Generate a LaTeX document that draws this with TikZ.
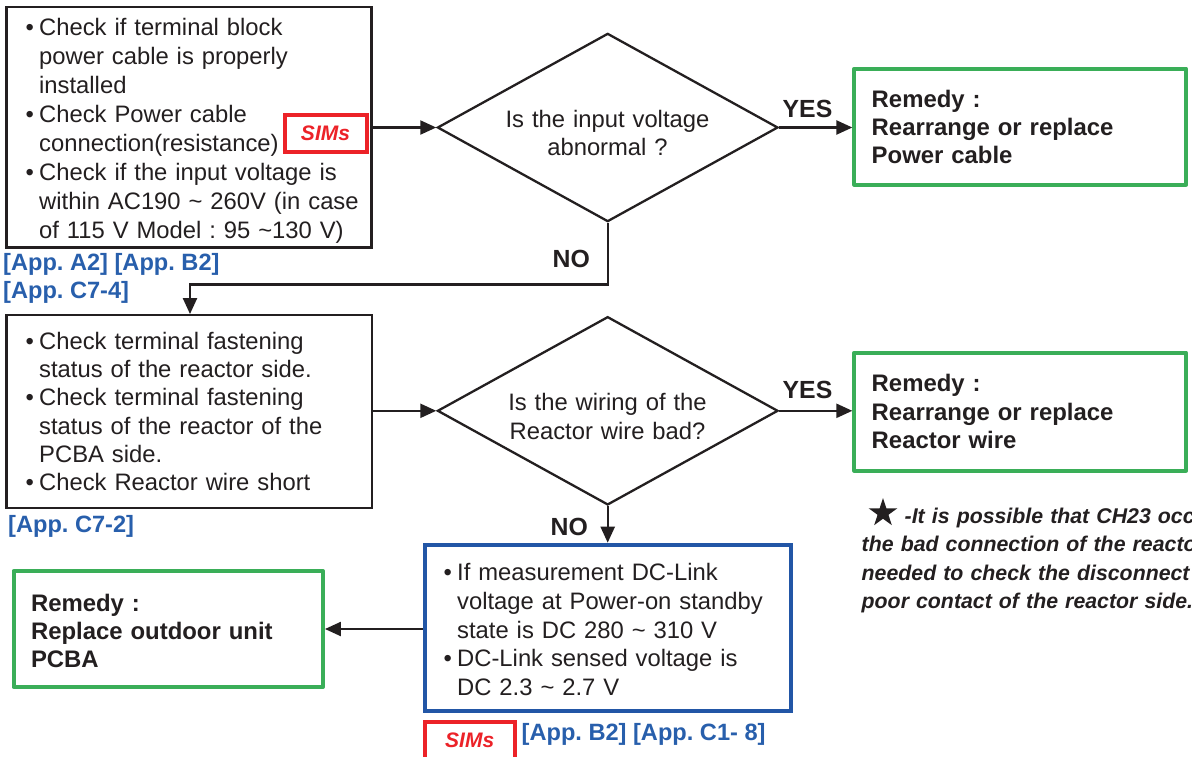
\documentclass[tikz,border=0pt]{standalone}
\usepackage{fontspec}
\setmainfont{Liberation Sans}
\usetikzlibrary{arrows.meta,shapes.geometric}
\frenchspacing
\definecolor{ink}{RGB}{35,31,32}
\definecolor{grn}{RGB}{58,174,88}
\definecolor{bluebox}{RGB}{34,86,166}
\definecolor{bluetxt}{RGB}{40,95,172}
\definecolor{simred}{RGB}{236,34,40}
\newcommand\bul{\makebox[13.6pt][l]{•}}
\newcommand\ind{\hspace*{13.6pt}}
\tikzset{
  ln/.style={draw=ink, line width=2.3pt},
  arr/.style={ln, -{Triangle[length=16pt,width=14pt]}},
  chkbox/.style={rectangle, draw=ink, line width=2.3pt, inner sep=0pt, fill=white},
  grbox/.style={rectangle, draw=grn, line width=4pt, inner sep=0pt, line join=round, fill=white},
  bluebx/.style={rectangle, draw=bluebox, line width=4pt, inner sep=0pt, fill=white},
  simsbox/.style={rectangle, draw=simred, line width=4pt, inner sep=0pt, fill=white,
    minimum width=82pt, minimum height=37.5pt, text=simred,
    font=\fontsize{21}{21}\selectfont\bfseries\itshape},
  decision/.style={diamond, draw=ink, line width=2.3pt, inner sep=0pt, aspect=1.8,
    minimum width=340.6pt, minimum height=188.3pt},
  body/.style={inner sep=0pt, anchor=base west, align=left, text width=420pt, text=ink},
  ctr/.style={inner sep=0pt, anchor=base, align=center, text width=320pt, text=ink,
    font=\fontsize{23.8}{28.6}\selectfont},
  rem/.style={body, font=\fontsize{23.9}{28.3}\selectfont\bfseries},
  yn/.style={inner sep=0pt, anchor=base west, text=ink, font=\fontsize{24.8}{28}\selectfont\bfseries},
  app/.style={inner sep=0pt, anchor=base west, text=bluetxt, font=\fontsize{23.6}{28.4}\selectfont\bfseries},
  note/.style={body, font=\fontsize{21.3}{28.4}\selectfont\bfseries\itshape}
}
\begin{document}
\begin{tikzpicture}[x=1pt,y=-1pt]
\useasboundingbox (0,0) rectangle (1192,756);
\clip (0,0) rectangle (1192,756);
\fill[white] (0,0) rectangle (1192,756);

% boxes and decisions
\node[chkbox, minimum width=365pt, minimum height=240.6pt] (box1) at (189,127.2) {};
\node[decision] (d1) at (607.7,127.5) {};
\node[grbox, minimum width=331.7pt, minimum height=116pt] (g1) at (1020.2,126.7) {};
\node[chkbox, minimum width=365.6pt, minimum height=192.6pt] (box2) at (189.3,411.5) {};
\node[decision] (d2) at (607.7,410.8) {};
\node[grbox, minimum width=331.7pt, minimum height=118pt] (g2) at (1020.2,411.7) {};
\node[bluebx, minimum width=366pt, minimum height=166pt] (blue) at (607.7,627.7) {};
\node[grbox, minimum width=309.3pt, minimum height=116pt] (g3) at (168.3,629) {};

% texts in boxes
\node[body, font=\fontsize{23.8}{29}\selectfont] (t1) at (25.4,35.7) {%
\bul Check if terminal block\\
\ind power cable is properly\\
\ind installed\\
\bul Check Power cable\\
\ind connection(resistance)\\
\bul Check if the input voltage is\\
\ind within AC190 \textasciitilde{} 260V (in case\\
\ind of 115 V Model : 95 \textasciitilde130 V)};
\node[simsbox] (sims1) at (325.5,133.3) {SIMs};

\node[ctr] (q1) at (607.5,127.3) {Is the input voltage\\abnormal ?};
\node[rem] (r1) at (871.5,107) {Remedy :\\Rearrange or replace\\Power cable};

\node[body, font=\fontsize{23.8}{28.3}\selectfont] (t2) at (25.4,349.3) {%
\bul Check terminal fastening\\
\ind status of the reactor side.\\
\bul Check terminal fastening\\
\ind status of the reactor of the\\
\ind PCBA side.\\
\bul Check Reactor wire short};

\node[ctr] (q2) at (607.5,410.7) {Is the wiring of the\\Reactor wire bad?};
\node[rem] (r2) at (871.5,391.7) {Remedy :\\Rearrange or replace\\Reactor wire};

\node[body, font=\fontsize{23.8}{28.75}\selectfont] (t3) at (443.4,580.7) {%
\bul If measurement DC-Link\\
\ind voltage at Power-on standby\\
\ind state is DC 280 \textasciitilde{} 310 V\\
\bul DC-Link sensed voltage is\\
\ind DC 2.3 \textasciitilde{} 2.7 V};

\node[rem] (r3) at (30.8,611) {Remedy :\\Replace outdoor unit\\PCBA};

\node[simsbox, minimum width=90pt] (sims2) at (469.7,740.7) {SIMs};

% connectors
\draw[arr] (box1.east |- d1.west) -- (d1.west);
\draw[arr] (d1.east) -- (g1.west |- d1.east);
\draw[arr] (d1.south) -- ++(0,61.6) -| ([xshift=0.7pt]box2.north);
\draw[arr] (box2.east |- d2.west) -- (d2.west);
\draw[arr] (d2.east) -- (g2.west |- d2.east);
\draw[arr] (d2.south) -- (blue.north);
\draw[arr] (g3.east -| blue.west) -- (g3.east);

% labels
\node[yn] (yes1) at (782.5,117.7) {YES};
\node[yn] (no1) at (552.5,267.7) {NO};
\node[yn] (yes2) at (782.5,398.3) {YES};
\node[yn] (no2) at (550.5,535) {NO};

\node[app] (app1) at (3,270) {[App. A2] [App. B2]};
\node[app] (app2) at (3,298.3) {[App. C7-4]};
\node[app] (app3) at (8,532.5) {[App. C7-2]};
\node[app] (app4) at (521.5,740) {[App. B2] [App. C1- 8]};

% note
\node[star, star points=5, star point ratio=2.618, fill=ink, draw=none, inner sep=0pt,
  minimum size=30pt] (star) at (883,513) {};
\node[note] (n1) at (861.5,523.3) {%
\hspace*{43pt}-It is possible that CH23 occ\\
the bad connection of the reacto\\
needed to check the disconnect\\
poor contact of the reactor side.};
\end{tikzpicture}
\end{document}
